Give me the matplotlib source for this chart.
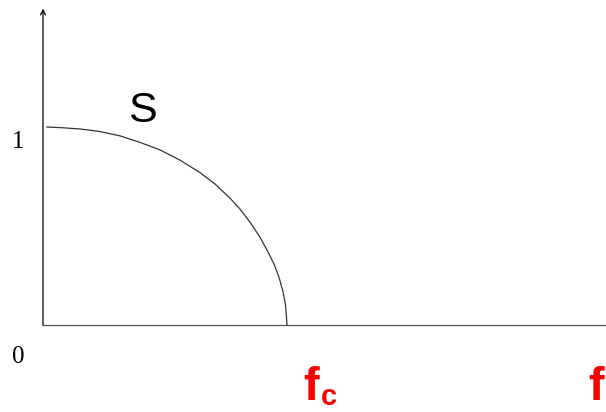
import matplotlib.pyplot as plt

# curve: normalised frequency f/fc against S
freq = [0.016, 0.070, 0.152, 0.234, 0.316, 0.398, 0.480, 0.561, 0.643, 0.705,
        0.766, 0.807, 0.848, 0.889, 0.922, 0.947, 0.967, 0.984, 0.994, 1.0]
S = [1.0, 0.997, 0.990, 0.977, 0.955, 0.922, 0.884, 0.833, 0.770, 0.712,
     0.641, 0.586, 0.520, 0.444, 0.369, 0.308, 0.242, 0.167, 0.101, 0.0]
y_tick_vals = [0, 1]
y_tick_labels = ["0", "1"]

fig = plt.figure(figsize=(6.06, 4.12), dpi=100)
ax = fig.add_axes([0, 0, 1, 1])
ax.set_xlim(-0.1762, 2.3074)
ax.set_ylim(-0.4394, 1.6414)
ax.axis("off")

# axes
ax.plot([-0.004, 2.31], [0, 0], color="#555555", lw=0.9, solid_capstyle="butt")
ax.annotate("", xy=(0, 1.598), xytext=(0, 0),
            arrowprops=dict(arrowstyle="->", color="black", lw=0.9,
                            shrinkA=0, shrinkB=0, mutation_scale=9))

# the curve
ax.plot(freq, S, color="#333333", lw=0.9)

# labels
serif = ["Liberation Serif", "DejaVu Serif"]
sans = ["Liberation Sans", "DejaVu Sans"]
for v, lab in zip(y_tick_vals, y_tick_labels):
    ax.text(-0.102, v * 0.924 + (1 - v) * -0.162, lab, family=serif,
            fontsize=18, ha="center", va="center")

ax.text(0.406, 1.081, "S", family=sans, fontsize=31, ha="center", va="center")

ax.text(1.100, -0.379, "f", family=sans, fontweight="bold", color="red",
        fontsize=34, ha="center", va="baseline")
ax.text(1.139, -0.433, "c", family=sans, fontweight="bold", color="red",
        fontsize=21, ha="left", va="bottom")
ax.text(2.266, -0.379, "f", family=sans, fontweight="bold", color="red",
        fontsize=34, ha="center", va="baseline")

plt.savefig("out.png", dpi=100)
